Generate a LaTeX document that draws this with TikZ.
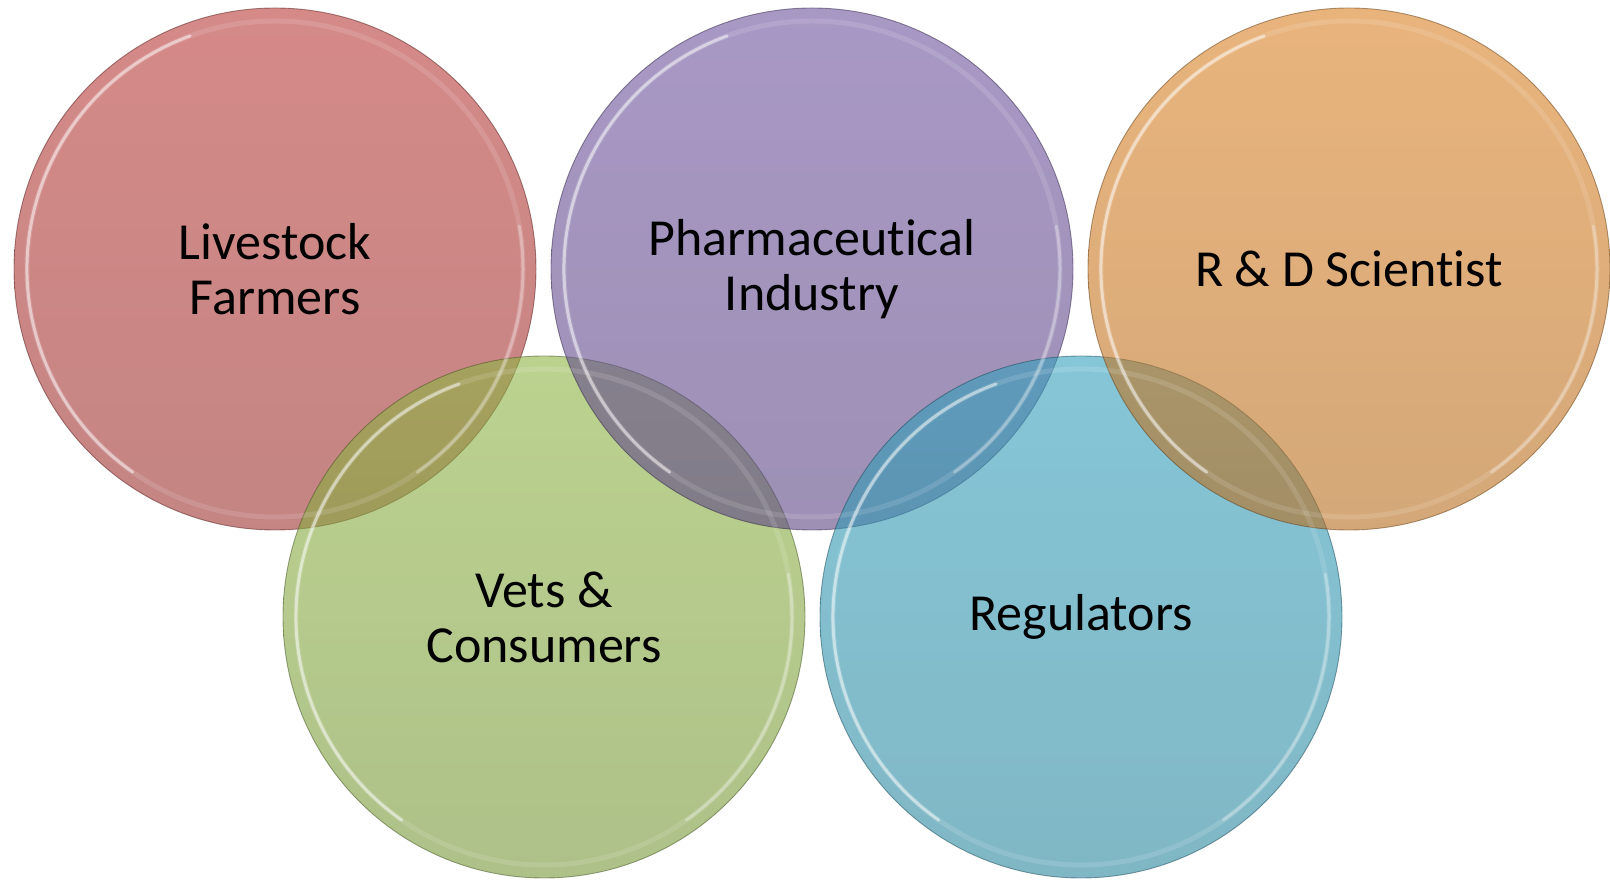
\documentclass[tikz,border=0pt]{standalone}
\usepackage{fontspec}
\setmainfont{Carlito}[Ligatures=NoCommon]
\begin{document}
\begin{tikzpicture}[x=1pt,y=1pt]
\definecolor{cRed}{RGB}{185,60,57}
\definecolor{cPurple}{RGB}{110,83,157}
\definecolor{cOrange}{RGB}{218,130,37}
\definecolor{cGreen}{RGB}{142,180,68}
\definecolor{cBlue}{RGB}{52,160,188}
\tikzset{
  ball/.style={circle, inner sep=0pt, minimum size=522pt, fill opacity=0.6,
    draw=#1!45!black, draw opacity=0.5, line width=0.9pt,
    top color=#1, bottom color=#1!84!black},
  lbl/.style={font=\fontsize{52}{55}\selectfont, align=center, text=black},
  rim/.style={draw=white, line width=3pt, opacity=0.5, line cap=round},
  rimfaint/.style={draw=white, line width=5pt, opacity=0.12},
}
\useasboundingbox (0,0) rectangle (1610,881);
% circles, drawn from left to right
\node[ball=cRed] (farmers) at (275,612) {};
\node[ball=cGreen] (vets) at (544,264) {};
\node[ball=cPurple] (pharma) at (812,612) {};
\node[ball=cBlue] (regs) at (1081,264) {};
\node[ball=cOrange] (rnd) at (1349,612) {};
% glass rims
\foreach \c in {farmers,vets,pharma,regs,rnd}{
  \draw[rimfaint] (\c.center) circle[radius=248];
  \draw[rim] (\c.center) ++(110:248) arc[start angle=110, end angle=235, radius=248];
  \draw[rim, opacity=0.3] (\c.center) ++(-55:248) arc[start angle=-55, end angle=10, radius=248];
}
% labels
\node[lbl] (farmersT) at (farmers) {Livestock\\Farmers};
\node[lbl] (pharmaT) at (pharma) {Pharmaceutical\\Industry};
\node[lbl] (rndT) at (rnd) {R \& D Scientist};
\node[lbl] (vetsT) at (vets) {Vets \&\\Consumers};
\node[lbl] (regsT) at (regs) {Regulators};
\end{tikzpicture}
\end{document}
